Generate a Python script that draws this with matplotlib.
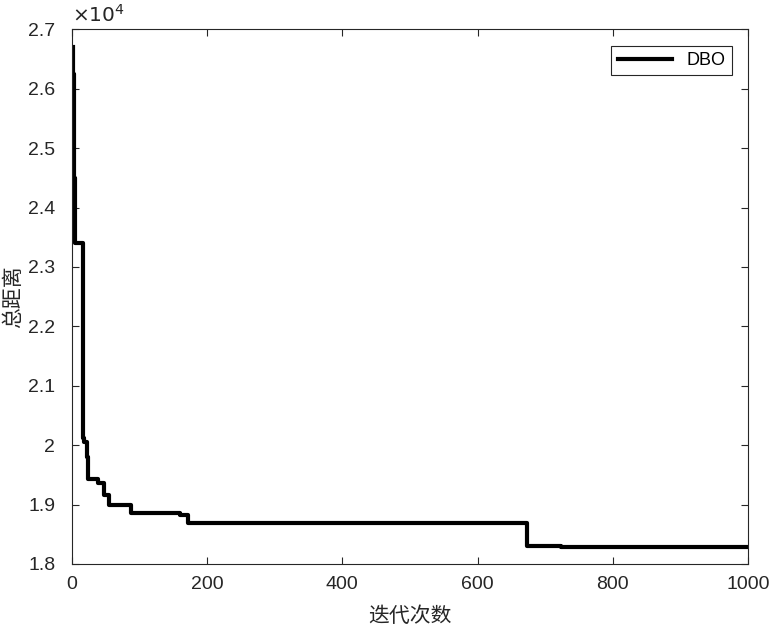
import matplotlib
matplotlib.use("Agg")
import matplotlib.pyplot as plt
from matplotlib.ticker import FuncFormatter, MultipleLocator

plt.rcParams['font.family'] = ['Liberation Sans', 'Noto Sans CJK SC', 'DejaVu Sans']

# --------------------------------------------------
# Convergence curve (step values)
# --------------------------------------------------
iters = [1, 2, 3, 4, 15, 16, 18, 22, 24, 37, 38, 46, 47, 53, 55, 85, 87,
         157, 160, 169, 171, 671, 673, 721, 723, 1000]
dist = [26700, 26250, 24500, 23410, 23410, 20120, 20050, 19800, 19430,
        19430, 19370, 19370, 19160, 19160, 19000, 19000, 18850,
        18850, 18820, 18820, 18685, 18685, 18310, 18310, 18293, 18293]

x_ticks = [0, 200, 400, 600, 800, 1000]

fig = plt.figure(figsize=(7.73, 6.30), dpi=100)
ax = fig.add_axes([0.0931, 0.1048, 0.8745, 0.8487])

ax.step(iters, dist, where="post", color="black", linewidth=3, label="DBO",
        solid_joinstyle="round")

ax.set_xlim(0, 1000)
ax.set_ylim(18000, 27000)
ax.set_xticks(x_ticks)
ax.yaxis.set_major_locator(MultipleLocator(1000))
ax.yaxis.set_major_formatter(FuncFormatter(lambda v, p: f"{v/1e4:g}"))

ax.tick_params(direction="in", top=True, right=True, length=5,
               labelsize=14, colors="#262626", width=0.8)
ax.tick_params(axis="x", pad=9)
ax.tick_params(axis="y", pad=12)
for s in ax.spines.values():
    s.set_color("#262626")
    s.set_linewidth(0.8)

ax.text(0.0, 1.006, r"$\times 10^{4}$", transform=ax.transAxes,
        fontsize=14.5, color="#262626", ha="left", va="bottom",
        family="DejaVu Sans")

ax.set_xlabel("迭代次数", fontsize=15, family=['Noto Sans CJK SC'],
              color="#262626", labelpad=8)
ax.set_ylabel("总距离", fontsize=15, family=['Noto Sans CJK SC'],
              color="#262626", labelpad=3)

leg = ax.legend(loc="upper right", fontsize=13, fancybox=False,
                edgecolor="#262626", framealpha=1, handlelength=3.0,
                borderaxespad=0.9, borderpad=0.35)
leg.get_frame().set_linewidth(0.8)

fig.savefig("out.png", dpi=100)
